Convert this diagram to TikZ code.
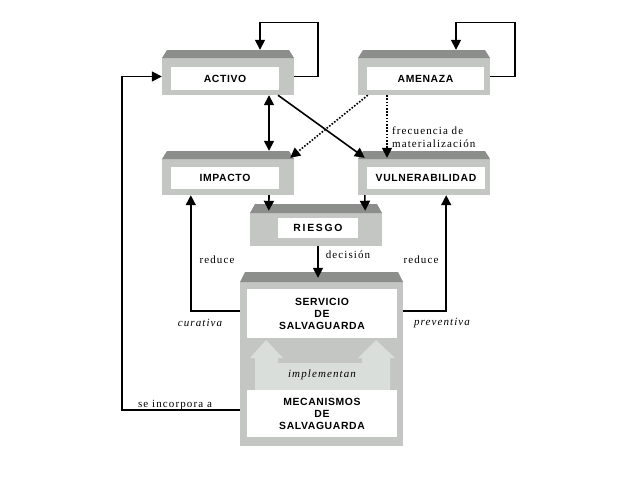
\documentclass[tikz,border=0pt]{standalone}
\usepackage{fontspec}
\setmainfont{Liberation Serif}
\newfontfamily\boxfont[LetterSpace=6]{Liberation Sans}
\newfontfamily\spserif[LetterSpace=10]{Liberation Serif}
\usetikzlibrary{arrows.meta}
\definecolor{bodygray}{RGB}{196,198,196}
\definecolor{bandgray}{RGB}{140,142,140}
\definecolor{lightarrow}{RGB}{218,222,218}
\tikzset{
  obox/.style={rectangle, inner sep=0pt, draw=none,
    path picture={
      \fill[bodygray] ([yshift=-#1]path picture bounding box.north west) rectangle (path picture bounding box.south east);
      \fill[bandgray] ([xshift=5pt]path picture bounding box.north west) -- ([xshift=-5pt]path picture bounding box.north east)
        -- ([yshift=-#1]path picture bounding box.north east) -- ([yshift=-#1]path picture bounding box.north west) -- cycle;
    }},
  obox/.default=8pt,
  ibox/.style={rectangle, fill=white, inner sep=0pt, align=center,
    font=\boxfont\bfseries\fontsize{10.4}{12}\selectfont},
  lbl/.style={font=\spserif\fontsize{11}{13}\selectfont, inner sep=0pt},
  ilbl/.style={font=\spserif\itshape\fontsize{11}{13}\selectfont, inner sep=0pt},
  arr/.style={-{Triangle[length=10pt,width=10pt]}, line width=1.6pt},
  dbl/.style={{Triangle[length=10pt,width=10pt]}-{Triangle[length=10pt,width=10pt]}, line width=1.6pt},
  dotarr/.style={-{Triangle[length=10pt,width=10pt]}, line width=1.6pt, dash pattern=on 1.6pt off 1.6pt},
}
\begin{document}
\begin{tikzpicture}[x=1pt,y=-1pt]
\useasboundingbox (0,0) rectangle (638,479);
\fill[white] (0,0) rectangle (638,479);

% outer boxes
\node[obox, minimum width=132pt, minimum height=45pt] (activo) at (228,72.5) {};
\node[obox, minimum width=132pt, minimum height=45pt] (amenaza) at (424,72.5) {};
\node[obox, minimum width=132pt, minimum height=44pt] (impacto) at (228,173) {};
\node[obox, minimum width=132pt, minimum height=44pt] (vulner) at (424,173) {};
\node[obox=9pt, minimum width=132pt, minimum height=42pt] (riesgo) at (316,225) {};
\node[obox=10pt, minimum width=163pt, minimum height=174pt] (serv) at (321.5,359) {};

% big light arrows inside the safeguard box
\fill[lightarrow] (255,392) -- (255,358) -- (250,358) -- (266,340) -- (283,358) -- (278,358) -- (278,363)
  -- (362,363) -- (362,358) -- (358,358) -- (376,340) -- (395,358) -- (390,358) -- (390,392) -- cycle;

% inner text boxes
\node[ibox, minimum width=108pt, minimum height=23pt] (activoT) at (225,78.5) {ACTIVO};
\node[ibox, minimum width=117pt, minimum height=23pt] (amenazaT) at (425.5,78.5) {AMENAZA};
\node[ibox, minimum width=108pt, minimum height=22pt] (impactoT) at (225,178) {IMPACTO};
\node[ibox, minimum width=118pt, minimum height=22pt] (vulnerT) at (426,178) {VULNERABILIDAD};
\node[ibox, minimum width=80pt, minimum height=20pt] (riesgoT) at (318,228) {R\,I\,E\,S\,G\,O};
\node[ibox, minimum width=150pt, minimum height=49pt] (servT) at (322,313.5) {SERVICIO\\DE\\SALVAGUARDA};
\node[ibox, minimum width=150pt, minimum height=47pt] (mecT) at (322,413.5) {MECANISMOS\\DE\\SALVAGUARDA};

% self loops
\draw[arr] ([yshift=-4pt]activo.east) -- ++(24,0) -- ++(0,-54) -| ([xshift=32pt]activo.north);
\draw[arr] ([yshift=-4pt]amenaza.east) -- ++(25,0) -- ++(0,-54) -| ([xshift=32pt]amenaza.north);

% connectors
\draw[dbl] ([xshift=41pt]activo.south) -- ([xshift=41pt]impacto.north);
\draw[arr] ([xshift=50pt]activo.south) -- ([xshift=7pt,yshift=-7pt]vulner.north west);
\draw[dotarr] ([xshift=10pt]amenaza.south west) -- ([xshift=-4pt,yshift=-7pt]impacto.north east);
\draw[dotarr] ([xshift=-37pt]amenaza.south) -- ([xshift=-37pt,yshift=-7pt]vulner.north);
\draw[arr] ([xshift=41pt]impacto.south) -- ([xshift=19pt,yshift=-7pt]riesgo.north west);
\draw[arr] ([xshift=7pt]vulner.south west) -- ([xshift=-17pt,yshift=-7pt]riesgo.north east);
\draw[arr] ([xshift=2pt]riesgo.south) -- ([xshift=-3.5pt,yshift=-6pt]serv.north);
\draw[arr] ([yshift=48pt]serv.west) -| ([xshift=29pt]impacto.south west);
\draw[arr] ([yshift=48pt]serv.east) -| ([xshift=-44pt]vulner.south east);
\draw[arr] ([yshift=-51pt]serv.west) -- ++(-118,0) |- ([yshift=-4pt]activo.west);

% labels
\node[lbl, anchor=west, align=left] (frec) at (392,137) {frecuencia de\\materialización};
\node[lbl] (red1) at (217,260) {reduce};
\node[lbl] (red2) at (421,260) {reduce};
\node[lbl] (dec) at (348,255) {decisión};
\node[ilbl] (cur) at (200,323) {curativa};
\node[ilbl] (prev) at (442,323) {preventiva};
\node[ilbl] (impl) at (322,375) {implementan};
\node[lbl] (inc) at (175,405) {se incorpora a};
\end{tikzpicture}
\end{document}
